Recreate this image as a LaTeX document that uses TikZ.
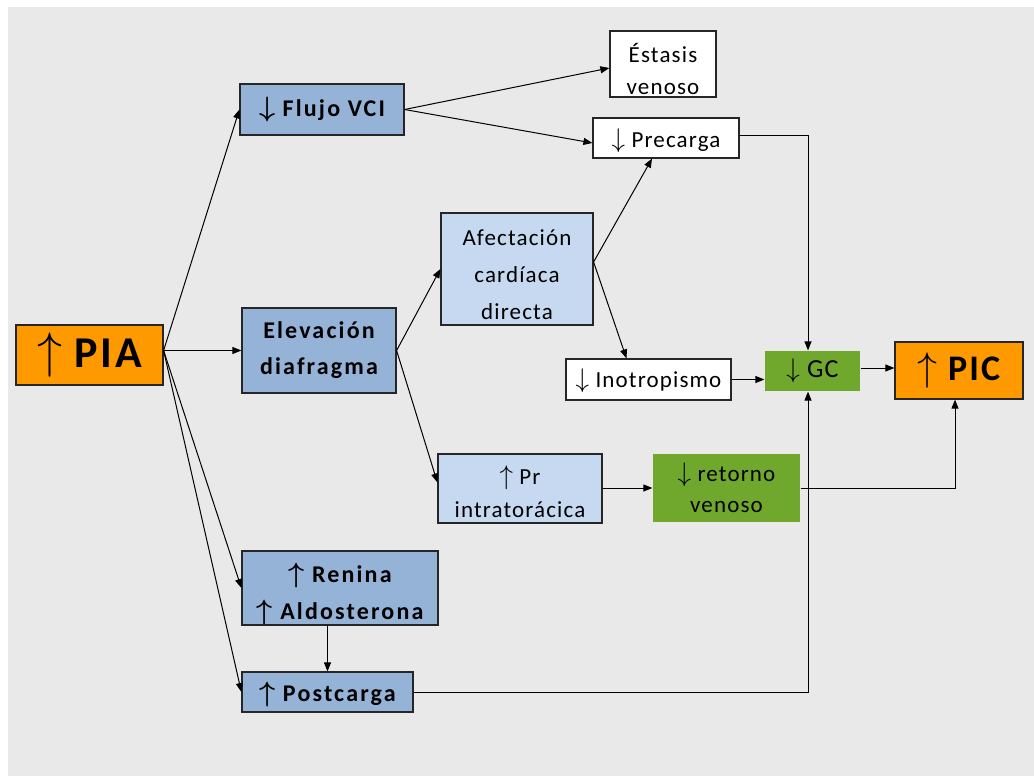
\RequirePackage{fix-cm}
\documentclass[tikz,border=0pt]{standalone}
\usepackage{bm}
\usepackage{fontspec}
\setmainfont{Carlito}[LetterSpace=5]
\newfontfamily\bsp{Carlito}[LetterSpace=9]
\newfontfamily\bigsp{Carlito}[LetterSpace=6]
\usetikzlibrary{arrows.meta,calc}
\definecolor{bgc}{RGB}{233,233,233}
\definecolor{blueC}{RGB}{149,179,215}
\definecolor{lblueC}{RGB}{198,217,241}
\definecolor{orangeC}{RGB}{255,153,0}
\definecolor{greenC}{RGB}{112,168,46}
\newcommand{\UpA}{{\fontsize{27}{27}\selectfont$\uparrow$}}
\newcommand{\DnA}{{\fontsize{27}{27}\selectfont$\downarrow$}}
\newcommand{\UpB}{{\fontsize{28}{28}\selectfont$\bm{\uparrow}$}}
\newcommand{\DnB}{{\fontsize{28}{28}\selectfont$\bm{\downarrow}$}}
\newcommand{\St}[1]{\rule{0pt}{#1pt}}
\begin{document}
\begin{tikzpicture}[x=1pt,y=-1pt,
  >={Triangle[length=9pt,width=7pt]},
  conn/.style={->, line width=1pt, black},
  boxbase/.style={inner sep=0pt, align=center, line width=1.2pt},
  edged/.style={boxbase, draw=black!85},
  regtext/.style={font=\fontsize{23}{33}\selectfont},
  boldtext/.style={font=\bsp\bfseries\fontsize{24}{36}\selectfont},
  bluebox/.style={edged, fill=blueC, boldtext},
  lightbox/.style={edged, fill=lblueC, regtext},
  whitebox/.style={edged, fill=white, regtext},
  greenbox/.style={boxbase, fill=greenC, regtext},
  orangebox/.style={edged, fill=orangeC}]
\fill[white] (0,0) rectangle (1034,776);
\fill[bgc] (8,7) rectangle (1034,776);
\useasboundingbox (0,0) rectangle (1034,776);

% nodes
\node[orangebox, minimum width=147pt, minimum height=60pt, font=\bigsp\bfseries\fontsize{44}{48}\selectfont] (PIA) at (89.5,355) {{\fontsize{50}{50}\selectfont$\uparrow$}\ PIA};
\node[bluebox, minimum width=164pt, minimum height=51pt] (Flujo) at (322,109.5) {\DnB\ Flujo VCI};
\node[bluebox, minimum width=154pt, minimum height=85pt] (Elev) at (319,350.5) {Elevación\\diafragma};
\node[bluebox, minimum width=196pt, minimum height=74pt, font=\bsp\bfseries\fontsize{24}{37}\selectfont] (Ren) at (340,588) {\St{31}\UpB\ Renina\\\UpB\ Aldosterona};
\node[bluebox, minimum width=171pt, minimum height=40pt] (Post) at (327.5,692) {\St{25}\UpB\ Postcarga};
\node[whitebox, minimum width=106pt, minimum height=66pt, font=\fontsize{23}{32}\selectfont] (Est) at (663,64) {\St{29}Éstasis\\venoso};
\node[whitebox, minimum width=146pt, minimum height=40pt] (Prec) at (666,138) {\St{24}\DnA\ Precarga};
\node[lightbox, minimum width=152pt, minimum height=112pt, font=\fontsize{23}{37}\selectfont] (Afec) at (517,269) {\St{28}Afectación\\cardíaca\\directa};
\node[whitebox, minimum width=165pt, minimum height=41pt] (Ino) at (648.5,379.5) {\St{22}\DnA\ Inotropismo};
\node[greenbox, minimum width=95pt, minimum height=40pt, font=\fontsize{26}{30}\selectfont] (GC) at (812.5,371) {\DnA\ GC};
\node[orangebox, minimum width=128pt, minimum height=57pt, font=\bigsp\bfseries\fontsize{36}{40}\selectfont] (PIC) at (959,370.5) {{\fontsize{40}{40}\selectfont$\uparrow$}\ PIC};
\node[lightbox, minimum width=164pt, minimum height=69pt] (Pr) at (520,488.5) {\St{26}\UpA\ Pr\\intratorácica};
\node[greenbox, minimum width=147pt, minimum height=68pt, font=\fontsize{23}{31}\selectfont] (Ret) at (726.5,488) {\DnA\ retorno\\venoso};

% connectors
\coordinate (S) at (PIA.east |- Elev.west);
\draw[conn] (S) -- (Flujo.west);
\draw[conn] (S) -- (Elev.west);
\draw[conn] (S) -- (Ren.west);
\draw[conn] (S) -- (Post.west);
\draw[conn] (Flujo.east) -- ($(Est.west)+(0,4)$);
\draw[conn] (Flujo.east) -- ($(Prec.west)+(0,5)$);
\draw[conn] (Elev.east) -- (Afec.west);
\draw[conn] (Elev.east) -- ($(Pr.west)+(0,-6)$);
\coordinate (A) at ($(Afec.east)+(0,-7)$);
\draw[conn] (A) -- ($(Prec.south)+(-14,0)$);
\draw[conn] (A) -- ($(Ino.north)+(-22,0)$);
\draw[conn] ($(Prec.east)+(0,-3)$) -| ($(GC.north)+(-4.5,0)$);
\draw[conn] (Ino.east) -- (Ino.east -| GC.west);
\draw[conn] ($(GC.east)+(0,-3)$) -- ($(GC.east -| PIC.west)+(0,-3)$);
\draw[conn] (Pr.east |- Ret.west) -- (Ret.west);
\draw[conn] (Ret.east) -| ($(PIC.south)+(-4,0)$);
\draw[conn] (Post.east) -| ($(GC.south)+(-4.5,0)$);
\draw[conn] (Ren.south -| Post.north) -- (Post.north);
\end{tikzpicture}
\end{document}
